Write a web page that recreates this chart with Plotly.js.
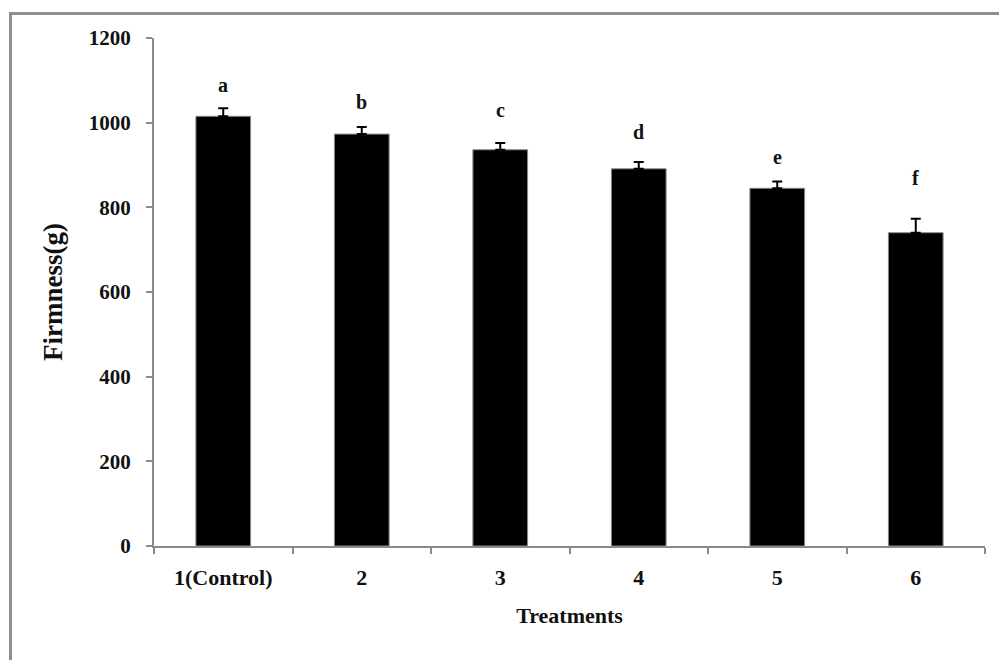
<!DOCTYPE html>
<html>
<head>
<meta charset="utf-8">
<script src="https://cdn.plot.ly/plotly-3.0.1.min.js"></script>
<style>
html,body{margin:0;padding:0;background:#fff;}
#wrap{position:relative;width:999px;height:660px;overflow:hidden;}
#chart{position:absolute;left:0;top:0;width:999px;height:660px;}
#frame{position:absolute;left:9px;top:12px;width:1000px;height:700px;border-top:3px solid #8e8e8e;border-left:3px solid #8e8e8e;pointer-events:none;}
</style>
</head>
<body>
<div id="wrap"><div id="chart"></div><div id="frame"></div></div>
<script>
var categories = ["1(Control)", "2", "3", "4", "5", "6"];
var firmness = [1015, 973, 936, 891, 845, 740];
var errors = [19, 17, 16, 16, 16, 33];
var letters = ["a", "b", "c", "d", "e", "f"];
var letterY = [1089, 1050, 1030, 979, 920, 869];
var yTicks = [0, 200, 400, 600, 800, 1000, 1200];

var serif = "Liberation Serif, Times New Roman, serif";

var trace = {
  type: "bar",
  x: categories,
  y: firmness,
  width: 0.395,
  marker: {color: "#000000", line: {color: "#8a8a8a", width: 1}},
  error_y: {type: "data", array: errors, arrayminus: errors.map(function(){return 0;}), symmetric: false, color: "#000000", thickness: 2, width: 5},
  hoverinfo: "none"
};

var annotations = categories.map(function(c, i){
  return {x: i, y: letterY[i], xref: "x", yref: "y", text: "<b>" + letters[i] + "</b>", showarrow: false,
    font: {family: serif, size: 20, color: "#111111"}};
});

var layout = {
  width: 999, height: 660,
  margin: {l: 154, r: 14, t: 38, b: 114, pad: 0},
  paper_bgcolor: "#ffffff", plot_bgcolor: "#ffffff",
  showlegend: false,
  xaxis: {
    type: "category",
    range: [-0.5, categories.length - 0.5],
    showline: true, linecolor: "#8a8a8a", linewidth: 2,
    ticks: "outside", tickson: "boundaries", ticklen: 6, tickwidth: 2, tickcolor: "#8a8a8a",
    showgrid: false, zeroline: false,
    tickfont: {family: serif, size: 22, color: "#111111", weight: "bold"},
    ticklabelstandoff: 11,
    title: {text: "<b>Treatments</b>", font: {family: serif, size: 22, color: "#111111"}, standoff: 18}
  },
  yaxis: {
    range: [0, 1200],
    tickvals: yTicks,
    ticktext: yTicks.map(function(v){return "<b>" + v + "</b>";}),
    showline: true, linecolor: "#8a8a8a", linewidth: 2,
    ticks: "outside", ticklen: 6, tickwidth: 2, tickcolor: "#8a8a8a",
    showgrid: false, zeroline: false,
    tickfont: {family: serif, size: 21, color: "#111111"},
    ticklabelstandoff: 11,
    title: {text: "<b>Firmness(g)</b>", font: {family: serif, size: 27, color: "#111111"}, standoff: 18}
  },
  annotations: annotations
};

Plotly.newPlot("chart", [trace], layout, {displayModeBar: false, staticPlot: true});
</script>
</body>
</html>
